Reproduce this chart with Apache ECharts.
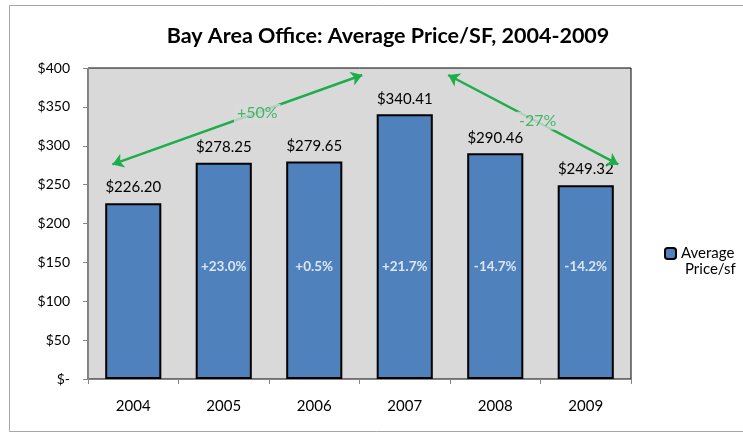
<!DOCTYPE html>
<html>
<head>
<meta charset="utf-8">
<script src="https://cdn.jsdelivr.net/npm/echarts@6/dist/echarts.min.js"></script>
<style>
  html, body { margin: 0; padding: 0; background: #fff; }
  #main { width: 743px; height: 433px; }
</style>
</head>
<body>
<div id="main"></div>
<script>
// data
const years = ["2004", "2005", "2006", "2007", "2008", "2009"];
const prices = [226.20, 278.25, 279.65, 340.41, 290.46, 249.32];
const changeLabels = ["", "+23.0%", "+0.5%", "+21.7%", "-14.7%", "-14.2%"];
const yTicks = [0, 50, 100, 150, 200, 250, 300, 350, 400];
// annotation arrows, in (category position, value) units
const arrowUp = [[-0.23, 276], [2.53, 391]];
const arrowDown = [[3.48, 391], [5.36, 276]];
const arrowLabels = [
  { pos: [1.37, 342], text: "+50%" },
  { pos: [4.47, 332], text: "-27%" }
];

const font = "Lato, 'Open Sans', sans-serif";
const green = "#1ead4b";

let chart = echarts.init(document.getElementById("main"));

let option = {
  animation: false,
  backgroundColor: "#fff",
  textStyle: { fontFamily: font },
  title: {
    text: "Bay Area Office: Average Price/SF, 2004-2009",
    left: 383,
    top: 20,
    textAlign: "center",
    textStyle: { fontSize: 21.5, fontWeight: "bold", color: "#000", fontFamily: font }
  },
  graphic: [
    {
      type: "rect",
      shape: { x: 9.5, y: 5.5, width: 740, height: 426 },
      style: { fill: "none", stroke: "#a6a6a6", lineWidth: 1 },
      silent: true
    },
    {
      type: "text",
      left: 685,
      top: 262,
      style: { text: "Price/sf", fontSize: 15, fill: "#000", fontFamily: font },
      silent: true
    }
  ],
  legend: {
    left: 659,
    top: 241,
    itemWidth: 11,
    itemHeight: 11,
    itemGap: 4,
    data: ["Average Price/sf"],
    formatter: function () { return "Average"; },
    textStyle: { fontSize: 15, color: "#000", fontFamily: font }
  },
  grid: {
    left: 88,
    right: 112,
    top: 68,
    bottom: 54,
    show: true,
    backgroundColor: "#d9d9d9",
    borderColor: "#000",
    borderWidth: 1
  },
  xAxis: [
    {
      type: "category",
      data: years,
      axisLine: { lineStyle: { color: "#868686", width: 1 } },
      axisTick: { show: true, alignWithLabel: false, length: 5, lineStyle: { color: "#868686" } },
      axisLabel: { color: "#000", fontSize: 15, margin: 20, fontFamily: font }
    },
    {
      type: "value",
      min: -0.5,
      max: 5.5,
      show: false
    }
  ],
  yAxis: {
    type: "value",
    min: 0,
    max: 400,
    interval: 50,
    splitLine: { show: false },
    axisLine: { show: true, onZero: false, lineStyle: { color: "#868686" } },
    axisTick: { show: true, length: 5, lineStyle: { color: "#868686" } },
    axisLabel: {
      color: "#000",
      fontSize: 14,
      margin: 18,
      fontFamily: font,
      formatter: function (v) {
        return yTicks.indexOf(v) >= 0 ? (v === 0 ? "$-" : "$" + v) : "";
      }
    }
  },
  series: [
    {
      name: "Average Price/sf",
      type: "bar",
      data: prices,
      barCategoryGap: "38%",
      itemStyle: { color: "#4f81bd", borderColor: "#000", borderWidth: 2 },
      label: {
        show: true,
        position: "top",
        distance: 8,
        color: "#000",
        fontSize: 15,
        fontFamily: font,
        formatter: function (p) { return "$" + p.value.toFixed(2); }
      },
      z: 2
    },
    {
      name: "change",
      type: "scatter",
      data: changeLabels.map(function (t, i) { return [years[i], 144]; }),
      symbolSize: 0,
      silent: true,
      label: {
        show: true,
        position: "inside",
        color: "#fff",
        fontWeight: "bold",
        fontSize: 13.5,
        fontFamily: font,
        formatter: function (p) { return changeLabels[p.dataIndex]; }
      },
      z: 5
    },
    {
      name: "arrows",
      type: "lines",
      coordinateSystem: "cartesian2d",
      xAxisIndex: 1,
      yAxisIndex: 0,
      symbol: ["arrow", "arrow"],
      symbolSize: 11,
      silent: true,
      lineStyle: { color: green, width: 2.5, opacity: 1 },
      data: [{ coords: arrowUp }, { coords: arrowDown }],
      z: 6
    },
    {
      name: "arrowText",
      type: "scatter",
      xAxisIndex: 1,
      yAxisIndex: 0,
      symbolSize: 0,
      silent: true,
      data: arrowLabels.map(function (a) { return a.pos; }),
      label: {
        show: true,
        position: "inside",
        color: green,
        fontSize: 16,
        fontFamily: font,
        backgroundColor: "#d9d9d9",
        padding: [1, 3],
        formatter: function (p) { return arrowLabels[p.dataIndex].text; }
      },
      z: 7
    }
  ]
};

chart.setOption(option);
</script>
</body>
</html>
